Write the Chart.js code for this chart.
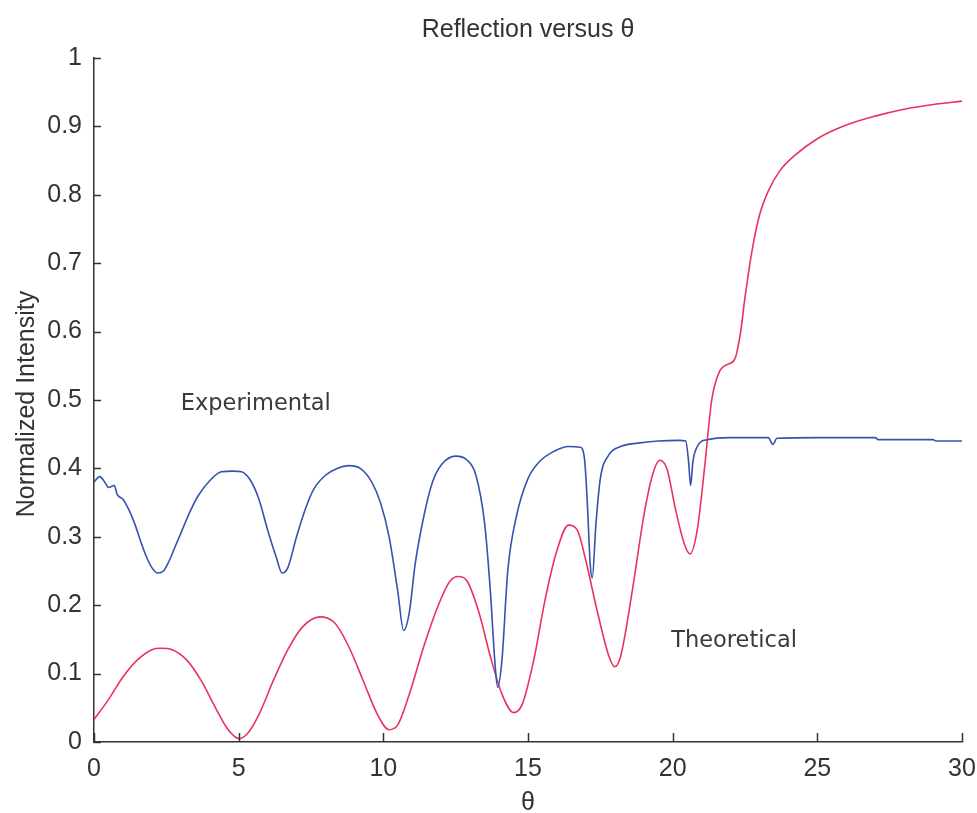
<!DOCTYPE html>
<html lang="en">
<head>
    <meta charset="UTF-8">
    <title>Reflection versus θ</title>
    <script src="https://cdn.jsdelivr.net/npm/chart.js"></script>
    <style>
        html, body { margin: 0; padding: 0; background: #fff; }
        .chart-wrapper { width: 977px; height: 813px; }
    </style>
</head>
<body>
    <div class="chart-wrapper">
        <canvas id="reflChart"></canvas>
    </div>

    <script>
        // Experimental curve (blue)
        const expTheta = [0, 0.2, 0.4, 0.5, 0.7, 0.8, 1.0, 1.2, 1.4, 1.6, 1.8, 2.0, 2.2, 2.4, 2.6, 2.8, 3.0, 3.3, 3.6, 4.0, 4.4, 4.8, 5.1, 5.4, 5.7, 6.0, 6.3, 6.5, 6.7, 7.0, 7.3, 7.6, 8.0, 8.4, 8.8, 9.2, 9.6, 9.9, 10.2, 10.5, 10.7, 10.9, 11.1, 11.4, 11.7, 12.0, 12.5, 12.9, 13.2, 13.5, 13.7, 13.85, 13.95, 14.1, 14.3, 14.6, 15.0, 15.4, 15.9, 16.4, 16.8, 16.95, 17.05, 17.15, 17.22, 17.35, 17.5, 17.8, 18.2, 18.8, 19.5, 20.2, 20.45, 20.55, 20.62, 20.7, 20.85, 21.2, 22.0, 23.3, 23.47, 23.6, 25.0, 27.0, 27.1, 29.0, 29.1, 30.0];
        const expValues = [0.38, 0.388, 0.378, 0.372, 0.375, 0.362, 0.355, 0.34, 0.32, 0.295, 0.272, 0.255, 0.247, 0.25, 0.265, 0.285, 0.305, 0.335, 0.36, 0.382, 0.395, 0.396, 0.395, 0.383, 0.355, 0.31, 0.27, 0.247, 0.255, 0.3, 0.34, 0.37, 0.39, 0.4, 0.404, 0.4, 0.38, 0.35, 0.3, 0.22, 0.163, 0.19, 0.26, 0.33, 0.38, 0.405, 0.418, 0.412, 0.39, 0.32, 0.22, 0.12, 0.08, 0.12, 0.25, 0.33, 0.385, 0.41, 0.425, 0.432, 0.431, 0.415, 0.35, 0.26, 0.24, 0.32, 0.385, 0.42, 0.432, 0.437, 0.44, 0.441, 0.44, 0.41, 0.375, 0.41, 0.432, 0.442, 0.445, 0.445, 0.435, 0.444, 0.445, 0.445, 0.442, 0.442, 0.44, 0.44];

        // Theoretical curve (red)
        const theoTheta = [0, 0.5, 1.0, 1.5, 2.0, 2.3, 2.7, 3.2, 3.7, 4.2, 4.6, 5.0, 5.3, 5.7, 6.2, 6.7, 7.2, 7.8, 8.3, 8.8, 9.3, 9.8, 10.2, 10.5, 10.9, 11.4, 11.9, 12.3, 12.6, 12.9, 13.3, 13.7, 14.1, 14.5, 14.8, 15.2, 15.6, 16.0, 16.4, 16.7, 17.0, 17.4, 17.8, 18.0, 18.2, 18.6, 19.0, 19.3, 19.55, 19.8, 20.1, 20.4, 20.6, 20.85, 21.1, 21.35, 21.6, 21.9, 22.15, 22.35, 22.5, 22.75, 23.0, 23.3, 23.7, 24.2, 25.0, 26.0, 27.0, 28.0, 29.0, 30.0];
        const theoValues = [0.033, 0.062, 0.095, 0.12, 0.135, 0.137, 0.135, 0.12, 0.09, 0.05, 0.02, 0.005, 0.012, 0.04, 0.09, 0.135, 0.168, 0.183, 0.175, 0.14, 0.09, 0.04, 0.018, 0.025, 0.07, 0.14, 0.2, 0.235, 0.242, 0.235, 0.19, 0.125, 0.07, 0.043, 0.055, 0.12, 0.21, 0.28, 0.317, 0.31, 0.265, 0.19, 0.125, 0.11, 0.125, 0.22, 0.33, 0.39, 0.412, 0.4, 0.34, 0.29, 0.275, 0.31, 0.4, 0.5, 0.54, 0.552, 0.56, 0.6, 0.65, 0.72, 0.77, 0.805, 0.835, 0.857, 0.882, 0.902, 0.915, 0.925, 0.932, 0.937];

        // Tick labels
        const xTicks = [0, 5, 10, 15, 20, 25, 30];
        const yTicks = [0, 0.1, 0.2, 0.3, 0.4, 0.5, 0.6, 0.7, 0.8, 0.9, 1];

        const ink = '#333333';
        const font = "'Liberation Sans', Arial, sans-serif";

        function toPoints(xs, ys) {
            return xs.map((x, i) => ({ x: x, y: ys[i] }));
        }

        // title, axis titles, in-plot labels and inward tick marks
        const decorations = {
            id: 'decorations',
            afterDraw(chart) {
                const ctx = chart.ctx;
                const xs = chart.scales.x, ys = chart.scales.y;
                const area = chart.chartArea;
                ctx.save();
                ctx.strokeStyle = ink;
                ctx.lineWidth = 1.5;
                ctx.beginPath();
                xTicks.forEach(t => {
                    const px = Math.round(xs.getPixelForValue(t)) + 0.5;
                    ctx.moveTo(px, area.bottom);
                    ctx.lineTo(px, area.bottom - 9);
                });
                yTicks.forEach(t => {
                    const py = Math.round(ys.getPixelForValue(t)) + 0.5;
                    ctx.moveTo(area.left, py);
                    ctx.lineTo(area.left + 7, py);
                });
                ctx.stroke();

                ctx.fillStyle = ink;
                ctx.textAlign = 'center';
                ctx.textBaseline = 'middle';
                ctx.font = '25px ' + font;
                ctx.fillText('Reflection versus θ', (area.left + area.right) / 2, 30);
                ctx.fillText('θ', (area.left + area.right) / 2, 803);

                ctx.save();
                ctx.translate(27, 404);
                ctx.rotate(-Math.PI / 2);
                ctx.fillText('Normalized Intensity', 0, 0);
                ctx.restore();

                ctx.font = "22.5px 'DejaVu Sans', sans-serif";
                ctx.fillStyle = '#3a3a3a';
                ctx.textAlign = 'left';
                ctx.fillText('Experimental', xs.getPixelForValue(3.0), ys.getPixelForValue(0.494));
                ctx.fillText('Theoretical', xs.getPixelForValue(19.95), ys.getPixelForValue(0.148));
                ctx.restore();
            }
        };

        var reflChart = new Chart(document.getElementById('reflChart'), {
            type: 'line',
            data: {
                datasets: [{
                    label: 'Experimental',
                    data: toPoints(expTheta, expValues),
                    borderColor: '#3552b0',
                    borderWidth: 1.6,
                    pointRadius: 0,
                    fill: false,
                    cubicInterpolationMode: 'monotone'
                }, {
                    label: 'Theoretical',
                    data: toPoints(theoTheta, theoValues),
                    borderColor: '#e8345c',
                    borderWidth: 1.6,
                    pointRadius: 0,
                    fill: false,
                    cubicInterpolationMode: 'monotone'
                }]
            },
            options: {
                responsive: true,
                maintainAspectRatio: false,
                animation: false,
                layout: { padding: { top: 58, right: 15, left: 0, bottom: 0 } },
                plugins: {
                    legend: { display: false },
                    tooltip: { enabled: false }
                },
                scales: {
                    x: {
                        type: 'linear',
                        min: 0,
                        max: 30,
                        afterBuildTicks: s => { s.ticks = xTicks.map(v => ({ value: v })); },
                        afterFit: s => { s.height = 71; s.paddingLeft = 0; s.paddingRight = 0; },
                        grid: { display: false },
                        border: { display: true, color: ink, width: 1.5 },
                        ticks: {
                            color: ink,
                            padding: 4,
                            maxRotation: 0,
                            font: { family: font, size: 25 },
                            callback: v => String(v)
                        }
                    },
                    y: {
                        type: 'linear',
                        min: 0,
                        max: 1,
                        afterBuildTicks: s => { s.ticks = yTicks.map(v => ({ value: v })); },
                        afterFit: s => { s.width = 94; s.paddingTop = 0; s.paddingBottom = 0; },
                        grid: { display: false },
                        border: { display: true, color: ink, width: 1.5 },
                        ticks: {
                            color: ink,
                            padding: 4,
                            font: { family: font, size: 25 },
                            callback: v => String(v)
                        }
                    }
                }
            },
            plugins: [decorations]
        });
    </script>
</body>
</html>
